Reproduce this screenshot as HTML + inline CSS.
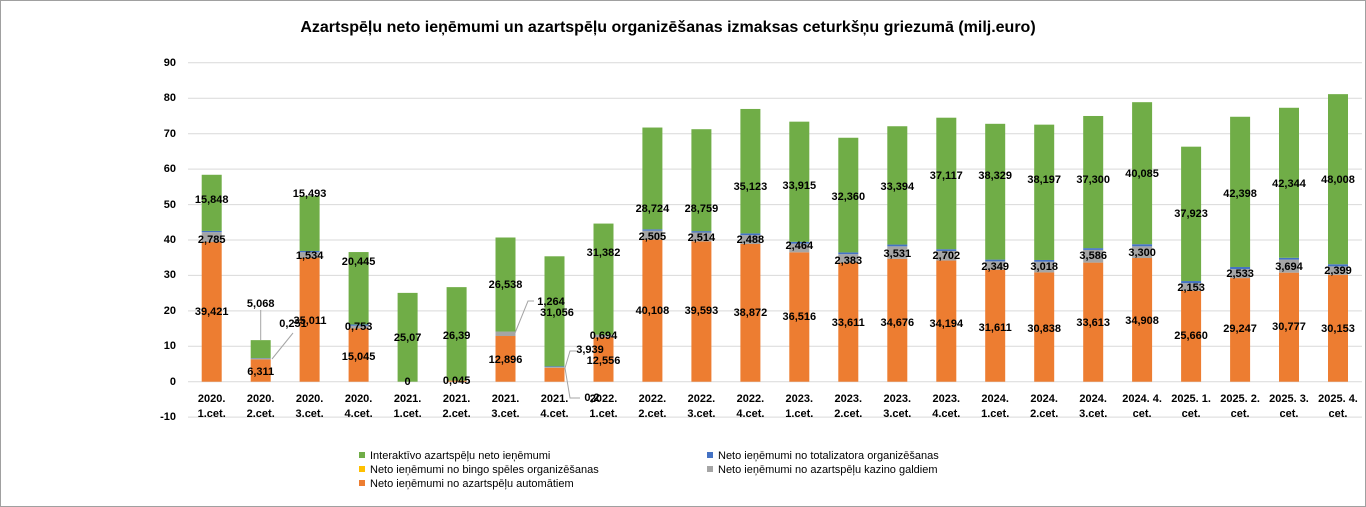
<!DOCTYPE html>
<html><head><meta charset="utf-8"><style>
html,body{margin:0;padding:0;background:#fff}
svg{display:block;font-family:"Liberation Sans",sans-serif}
.l{font-size:11px;font-weight:bold;fill:#000;text-anchor:middle;dominant-baseline:middle}
.a{font-size:11px;font-weight:bold;fill:#000;text-anchor:middle}
.y{font-size:11px;font-weight:bold;fill:#000;text-anchor:end;dominant-baseline:middle}
.g{font-size:11px;fill:#000;dominant-baseline:middle}
</style></head><body>
<svg width="1366" height="507" viewBox="0 0 1366 507">
<rect x="0.5" y="0.5" width="1365" height="506" fill="#fff" stroke="#a0a0a0"/>
<text x="668" y="32" font-size="16" font-weight="bold" text-anchor="middle">Azartspēļu neto ieņēmumi un azartspēļu organizēšanas izmaksas ceturkšņu griezumā (milj.euro)</text>
<g stroke="#d9d9d9" stroke-width="1">
<line x1="188" x2="1362" y1="62.8" y2="62.8"/><line x1="188" x2="1362" y1="98.3" y2="98.3"/><line x1="188" x2="1362" y1="133.7" y2="133.7"/><line x1="188" x2="1362" y1="169.1" y2="169.1"/><line x1="188" x2="1362" y1="204.6" y2="204.6"/><line x1="188" x2="1362" y1="240" y2="240"/><line x1="188" x2="1362" y1="275.4" y2="275.4"/><line x1="188" x2="1362" y1="310.9" y2="310.9"/><line x1="188" x2="1362" y1="346.3" y2="346.3"/><line x1="188" x2="1362" y1="381.7" y2="381.7"/><line x1="188" x2="1362" y1="417.1" y2="417.1"/>
</g>
<g class="y">
<text class="y" x="176" y="63">90</text><text class="y" x="176" y="98">80</text><text class="y" x="176" y="134">70</text><text class="y" x="176" y="169">60</text><text class="y" x="176" y="205">50</text><text class="y" x="176" y="240">40</text><text class="y" x="176" y="275">30</text><text class="y" x="176" y="311">20</text><text class="y" x="176" y="346">10</text><text class="y" x="176" y="382">0</text><text class="y" x="176" y="417">-10</text>
</g>
<g transform="translate(0,381.7) scale(1,-3.543)">
<g fill="#ED7D31">
<rect x="201.7" y="0" width="20" height="39.421"/><rect x="250.7" y="0" width="20" height="6.311"/><rect x="299.6" y="0" width="20" height="35.011"/><rect x="348.6" y="0" width="20" height="15.045"/><rect x="446.6" y="0" width="20" height="0.3"/><rect x="495.5" y="0" width="20" height="12.896"/><rect x="544.5" y="0" width="20" height="3.939"/><rect x="593.5" y="0" width="20" height="12.556"/><rect x="642.4" y="0" width="20" height="40.108"/><rect x="691.4" y="0" width="20" height="39.593"/><rect x="740.4" y="0" width="20" height="38.872"/><rect x="789.3" y="0" width="20" height="36.516"/><rect x="838.3" y="0" width="20" height="33.611"/><rect x="887.3" y="0" width="20" height="34.676"/><rect x="936.3" y="0" width="20" height="34.194"/><rect x="985.2" y="0" width="20" height="31.611"/><rect x="1034.2" y="0" width="20" height="30.838"/><rect x="1083.2" y="0" width="20" height="33.613"/><rect x="1132.1" y="0" width="20" height="34.908"/><rect x="1181.1" y="0" width="20" height="25.660"/><rect x="1230.1" y="0" width="20" height="29.247"/><rect x="1279" y="0" width="20" height="30.777"/><rect x="1328" y="0" width="20" height="30.153"/>
</g>
<g fill="#A5A5A5">
<rect x="201.7" y="39.421" width="20" height="2.785"/><rect x="250.7" y="6.311" width="20" height="0.251"/><rect x="299.6" y="35.011" width="20" height="1.534"/><rect x="348.6" y="15.045" width="20" height="0.753"/><rect x="495.5" y="12.896" width="20" height="1.264"/><rect x="544.5" y="3.939" width="20" height="0.2"/><rect x="593.5" y="12.556" width="20" height="0.694"/><rect x="642.4" y="40.108" width="20" height="2.505"/><rect x="691.4" y="39.593" width="20" height="2.514"/><rect x="740.4" y="38.872" width="20" height="2.488"/><rect x="789.3" y="36.516" width="20" height="2.464"/><rect x="838.3" y="33.611" width="20" height="2.383"/><rect x="887.3" y="34.676" width="20" height="3.531"/><rect x="936.3" y="34.194" width="20" height="2.702"/><rect x="985.2" y="31.611" width="20" height="2.349"/><rect x="1034.2" y="30.838" width="20" height="3.018"/><rect x="1083.2" y="33.613" width="20" height="3.586"/><rect x="1132.1" y="34.908" width="20" height="3.300"/><rect x="1181.1" y="25.660" width="20" height="2.153"/><rect x="1230.1" y="29.247" width="20" height="2.533"/><rect x="1279" y="30.777" width="20" height="3.694"/><rect x="1328" y="30.153" width="20" height="2.399"/>
</g>
<g fill="#4472C4">
<rect x="201.7" y="42.206" width="20" height="0.35"/><rect x="250.7" y="6.562" width="20" height="0.1"/><rect x="299.6" y="36.545" width="20" height="0.35"/><rect x="348.6" y="15.798" width="20" height="0.35"/><rect x="544.5" y="4.139" width="20" height="0.2"/><rect x="642.4" y="42.613" width="20" height="0.4"/><rect x="691.4" y="42.107" width="20" height="0.4"/><rect x="740.4" y="41.36" width="20" height="0.5"/><rect x="789.3" y="38.98" width="20" height="0.5"/><rect x="838.3" y="35.994" width="20" height="0.5"/><rect x="887.3" y="38.207" width="20" height="0.5"/><rect x="936.3" y="36.896" width="20" height="0.5"/><rect x="985.2" y="33.96" width="20" height="0.5"/><rect x="1034.2" y="33.856" width="20" height="0.5"/><rect x="1083.2" y="37.199" width="20" height="0.5"/><rect x="1132.1" y="38.208" width="20" height="0.6"/><rect x="1181.1" y="27.813" width="20" height="0.6"/><rect x="1230.1" y="31.78" width="20" height="0.6"/><rect x="1279" y="34.471" width="20" height="0.5"/><rect x="1328" y="32.552" width="20" height="0.6"/>
</g>
<g fill="#70AD47">
<rect x="201.7" y="42.556" width="20" height="15.848"/><rect x="250.7" y="6.662" width="20" height="5.068"/><rect x="299.6" y="36.895" width="20" height="15.493"/><rect x="348.6" y="16.148" width="20" height="20.445"/><rect x="397.6" y="0" width="20" height="25.07"/><rect x="446.6" y="0.3" width="20" height="26.39"/><rect x="495.5" y="14.16" width="20" height="26.538"/><rect x="544.5" y="4.339" width="20" height="31.056"/><rect x="593.5" y="13.25" width="20" height="31.382"/><rect x="642.4" y="43.013" width="20" height="28.724"/><rect x="691.4" y="42.507" width="20" height="28.759"/><rect x="740.4" y="41.86" width="20" height="35.123"/><rect x="789.3" y="39.48" width="20" height="33.915"/><rect x="838.3" y="36.494" width="20" height="32.360"/><rect x="887.3" y="38.707" width="20" height="33.394"/><rect x="936.3" y="37.396" width="20" height="37.117"/><rect x="985.2" y="34.46" width="20" height="38.329"/><rect x="1034.2" y="34.356" width="20" height="38.197"/><rect x="1083.2" y="37.699" width="20" height="37.300"/><rect x="1132.1" y="38.808" width="20" height="40.085"/><rect x="1181.1" y="28.413" width="20" height="37.923"/><rect x="1230.1" y="32.38" width="20" height="42.398"/><rect x="1279" y="34.971" width="20" height="42.344"/><rect x="1328" y="33.152" width="20" height="48.008"/>
</g>
</g>
<g stroke="#a5a5a5" stroke-width="1" fill="none">
<polyline points="260.7,310 260.7,340"/>
<polyline points="272,359 293,333"/>
<polyline points="515,333 528,301 534,301"/>
<polyline points="565,368 570,351 576,351"/>
<polyline points="565,368 570,398 580,398"/>
</g>
<g class="l">
<text class="l" x="211.7" y="200">15,848</text><text class="l" x="211.7" y="240">2,785</text><text class="l" x="211.7" y="312">39,421</text>
<text class="l" x="260.7" y="304">5,068</text><text class="l" x="293" y="324">0,251</text><text class="l" x="310" y="321">35,011</text><text class="l" x="260.7" y="372">6,311</text>
<text class="l" x="309.6" y="194">15,493</text><text class="l" x="309.6" y="256">1,534</text>
<text class="l" x="358.6" y="262">20,445</text><text class="l" x="358.6" y="327">0,753</text><text class="l" x="358.6" y="357">15,045</text>
<text class="l" x="407.6" y="338">25,07</text><text class="l" x="407.6" y="382">0</text>
<text class="l" x="456.6" y="336">26,39</text><text class="l" x="456.6" y="381">0,045</text>
<text class="l" x="505.5" y="285">26,538</text><text class="l" x="551" y="302">1,264</text><text class="l" x="505.5" y="360">12,896</text>
<text class="l" x="557" y="313">31,056</text><text class="l" x="590" y="350">3,939</text><text class="l" x="592" y="398">0,2</text>
<text class="l" x="603.5" y="253">31,382</text><text class="l" x="603.5" y="336">0,694</text><text class="l" x="603.5" y="361">12,556</text>
<text class="l" x="652.4" y="209">28,724</text><text class="l" x="652.4" y="237">2,505</text><text class="l" x="652.4" y="311">40,108</text>
<text class="l" x="701.4" y="209">28,759</text><text class="l" x="701.4" y="238">2,514</text><text class="l" x="701.4" y="311">39,593</text>
<text class="l" x="750.4" y="187">35,123</text><text class="l" x="750.4" y="240">2,488</text><text class="l" x="750.4" y="313">38,872</text>
<text class="l" x="799.3" y="186">33,915</text><text class="l" x="799.3" y="246">2,464</text><text class="l" x="799.3" y="317">36,516</text>
<text class="l" x="848.3" y="197">32,360</text><text class="l" x="848.3" y="261">2,383</text><text class="l" x="848.3" y="323">33,611</text>
<text class="l" x="897.3" y="187">33,394</text><text class="l" x="897.3" y="254">3,531</text><text class="l" x="897.3" y="323">34,676</text>
<text class="l" x="946.3" y="176">37,117</text><text class="l" x="946.3" y="256">2,702</text><text class="l" x="946.3" y="324">34,194</text>
<text class="l" x="995.2" y="176">38,329</text><text class="l" x="995.2" y="267">2,349</text><text class="l" x="995.2" y="328">31,611</text>
<text class="l" x="1044.2" y="180">38,197</text><text class="l" x="1044.2" y="267">3,018</text><text class="l" x="1044.2" y="329">30,838</text>
<text class="l" x="1093.2" y="180">37,300</text><text class="l" x="1093.2" y="256">3,586</text><text class="l" x="1093.2" y="323">33,613</text>
<text class="l" x="1142.1" y="174">40,085</text><text class="l" x="1142.1" y="253">3,300</text><text class="l" x="1142.1" y="321">34,908</text>
<text class="l" x="1191.1" y="214">37,923</text><text class="l" x="1191.1" y="288">2,153</text><text class="l" x="1191.1" y="336">25,660</text>
<text class="l" x="1240.1" y="194">42,398</text><text class="l" x="1240.1" y="274">2,533</text><text class="l" x="1240.1" y="329">29,247</text>
<text class="l" x="1289" y="184">42,344</text><text class="l" x="1289" y="267">3,694</text><text class="l" x="1289" y="327">30,777</text>
<text class="l" x="1338" y="180">48,008</text><text class="l" x="1338" y="271">2,399</text><text class="l" x="1338" y="329">30,153</text>
</g>
<g class="a">
<text class="a" x="211.7" y="402">2020.</text><text class="a" x="211.7" y="417">1.cet.</text>
<text class="a" x="260.7" y="402">2020.</text><text class="a" x="260.7" y="417">2.cet.</text>
<text class="a" x="309.6" y="402">2020.</text><text class="a" x="309.6" y="417">3.cet.</text>
<text class="a" x="358.6" y="402">2020.</text><text class="a" x="358.6" y="417">4.cet.</text>
<text class="a" x="407.6" y="402">2021.</text><text class="a" x="407.6" y="417">1.cet.</text>
<text class="a" x="456.6" y="402">2021.</text><text class="a" x="456.6" y="417">2.cet.</text>
<text class="a" x="505.5" y="402">2021.</text><text class="a" x="505.5" y="417">3.cet.</text>
<text class="a" x="554.5" y="402">2021.</text><text class="a" x="554.5" y="417">4.cet.</text>
<text class="a" x="603.5" y="402">2022.</text><text class="a" x="603.5" y="417">1.cet.</text>
<text class="a" x="652.4" y="402">2022.</text><text class="a" x="652.4" y="417">2.cet.</text>
<text class="a" x="701.4" y="402">2022.</text><text class="a" x="701.4" y="417">3.cet.</text>
<text class="a" x="750.4" y="402">2022.</text><text class="a" x="750.4" y="417">4.cet.</text>
<text class="a" x="799.3" y="402">2023.</text><text class="a" x="799.3" y="417">1.cet.</text>
<text class="a" x="848.3" y="402">2023.</text><text class="a" x="848.3" y="417">2.cet.</text>
<text class="a" x="897.3" y="402">2023.</text><text class="a" x="897.3" y="417">3.cet.</text>
<text class="a" x="946.3" y="402">2023.</text><text class="a" x="946.3" y="417">4.cet.</text>
<text class="a" x="995.2" y="402">2024.</text><text class="a" x="995.2" y="417">1.cet.</text>
<text class="a" x="1044.2" y="402">2024.</text><text class="a" x="1044.2" y="417">2.cet.</text>
<text class="a" x="1093.2" y="402">2024.</text><text class="a" x="1093.2" y="417">3.cet.</text>
<text class="a" x="1142.1" y="402">2024. 4.</text><text class="a" x="1142.1" y="417">cet.</text>
<text class="a" x="1191.1" y="402">2025. 1.</text><text class="a" x="1191.1" y="417">cet.</text>
<text class="a" x="1240.1" y="402">2025. 2.</text><text class="a" x="1240.1" y="417">cet.</text>
<text class="a" x="1289" y="402">2025. 3.</text><text class="a" x="1289" y="417">cet.</text>
<text class="a" x="1338" y="402">2025. 4.</text><text class="a" x="1338" y="417">cet.</text>
</g>
<rect x="359" y="452" width="6" height="6" fill="#70AD47"/><text class="g" x="370" y="456">Interaktīvo azartspēļu neto ieņēmumi</text>
<rect x="359" y="466" width="6" height="6" fill="#FFC000"/><text class="g" x="370" y="470">Neto ieņēmumi no bingo spēles organizēšanas</text>
<rect x="359" y="480" width="6" height="6" fill="#ED7D31"/><text class="g" x="370" y="484">Neto ieņēmumi no azartspēļu automātiem</text>
<rect x="707" y="452" width="6" height="6" fill="#4472C4"/><text class="g" x="718" y="456">Neto ieņēmumi no totalizatora organizēšanas</text>
<rect x="707" y="466" width="6" height="6" fill="#A5A5A5"/><text class="g" x="718" y="470">Neto ieņēmumi no azartspēļu kazino galdiem</text>
</svg>
</body></html>
